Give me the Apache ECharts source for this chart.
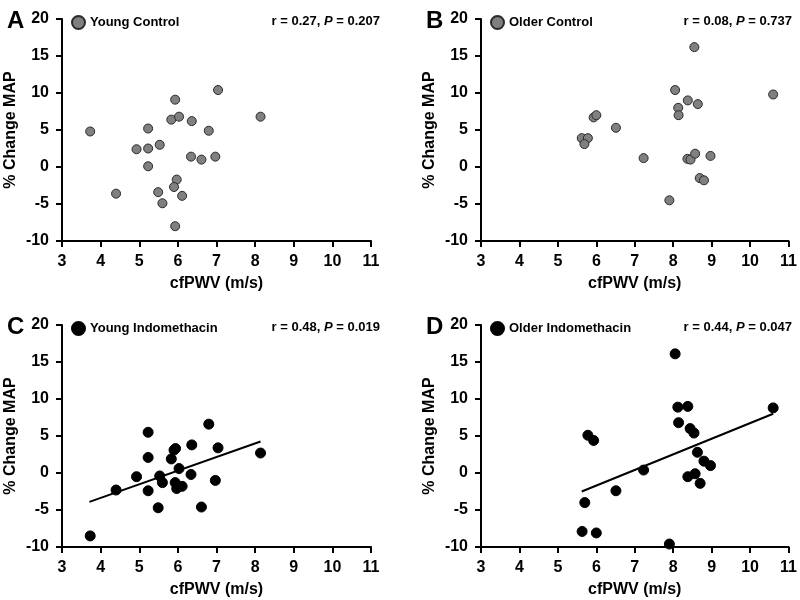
<!DOCTYPE html>
<html>
<head>
<meta charset="utf-8">
<script src="https://cdn.jsdelivr.net/npm/echarts@6/dist/echarts.min.js"></script>
<style>html,body{margin:0;padding:0;background:#fff}#c{width:800px;height:600px}</style>
</head>
<body>
<div id="c"></div>
<script>
// ---- data ----
const xTicks = [3,4,5,6,7,8,9,10,11];
const yTicks = [-10,-5,0,5,10,15,20];
const panelLetters = ['A','B','C','D'];
const seriesNames = ['Young Control','Older Control','Young Indomethacin','Older Indomethacin'];
const rValues = ['0.27','0.08','0.48','0.44'];
const pValues = ['0.207','0.737','0.019','0.047'];

const youngCtrlX = [3.73,4.40,4.93,5.23,5.23,5.23,5.53,5.49,5.60,5.93,5.83,6.03,5.97,5.90,6.11,5.93,6.36,6.34,6.61,6.80,6.97,7.04,8.14];
const youngCtrlY = [4.8,-3.6,2.4,5.2,2.5,0.1,3.0,-3.4,-4.9,9.1,6.4,6.8,-1.7,-2.7,-3.9,-8.0,6.2,1.4,1.0,4.9,1.4,10.4,6.8];

const olderCtrlX = [5.62,5.78,5.69,5.93,6.00,6.51,7.23,7.90,8.05,8.13,8.14,8.38,8.64,8.55,8.37,8.45,8.57,8.97,8.69,8.80,10.60];
const olderCtrlY = [3.9,3.9,3.1,6.7,7.0,5.3,1.2,-4.5,10.4,8.0,7.0,9.0,8.5,16.2,1.1,1.0,1.8,1.5,-1.5,-1.8,9.8];

const youngIndoX = [3.73,4.40,4.93,5.23,5.23,5.23,5.53,5.60,5.49,5.83,5.90,5.94,6.03,5.93,5.97,6.11,6.34,6.36,6.61,6.80,6.97,7.04,8.14];
const youngIndoY = [-8.5,-2.3,-0.5,5.5,2.1,-2.4,-0.4,-1.3,-4.7,1.9,3.1,3.3,0.6,-1.3,-2.1,-1.8,-0.2,3.8,-4.6,6.6,-1.0,3.4,2.7];

const olderIndoX = [5.63,5.70,5.78,5.93,6.00,6.51,7.23,7.90,8.05,8.12,8.14,8.38,8.44,8.54,8.63,8.80,8.97,8.38,8.57,8.70,10.60];
const olderIndoY = [-7.9,-4.0,5.1,4.4,-8.1,-2.4,0.4,-9.6,16.1,8.9,6.8,9.0,6.0,5.4,2.8,1.6,1.0,-0.5,-0.1,-1.4,8.8];

const youngIndoFitX = [3.71, 8.14];
const youngIndoFitY = [-3.9, 4.25];
const olderIndoFitX = [5.62, 10.60];
const olderIndoFitY = [-2.5, 8.0];

// ---- build ----
const FONT = 'Liberation Sans, Arial, sans-serif';
const zip = (xs, ys) => xs.map((x, i) => [x, ys[i]]);
const allX = [youngCtrlX, olderCtrlX, youngIndoX, olderIndoX];
const allY = [youngCtrlY, olderCtrlY, youngIndoY, olderIndoY];
const fits = [null, null, [youngIndoFitX, youngIndoFitY], [olderIndoFitX, olderIndoFitY]];

const gridPos = [
  {left: 62, top: 19, width: 309, height: 222},
  {left: 481, top: 19, width: 310, height: 222},
  {left: 62, top: 325, width: 309, height: 222},
  {left: 481, top: 325, width: 310, height: 222}
];
const fill = ['#808080','#808080','#000000','#000000'];
const sizes = [9,9,10,10];

const grids = [], xAxes = [], yAxes = [], series = [], titles = [], legends = [];
for (let i = 0; i < 4; i++) {
  const g = gridPos[i];
  grids.push(Object.assign({containLabel: false}, g));
  xAxes.push({
    type: 'value', gridIndex: i, min: xTicks[0], max: xTicks[xTicks.length-1], interval: 1,
    name: 'cfPWV (m/s)', nameLocation: 'middle', nameGap: 35,
    nameTextStyle: {fontFamily: FONT, fontWeight: 'bold', fontSize: 16, color: '#000'},
    axisLine: {onZero: false, lineStyle: {color: '#000', width: 2}},
    axisTick: {show: true, length: 6, lineStyle: {color: '#000', width: 2}},
    axisLabel: {fontFamily: FONT, fontWeight: 'bold', fontSize: 16, color: '#000', margin: 13},
    splitLine: {show: false}
  });
  yAxes.push({
    type: 'value', gridIndex: i, min: yTicks[0], max: yTicks[yTicks.length-1], interval: 5,
    name: '% Change MAP', nameLocation: 'middle', nameGap: 43,
    nameTextStyle: {fontFamily: FONT, fontWeight: 'bold', fontSize: 16, color: '#000'},
    axisLine: {onZero: false, lineStyle: {color: '#000', width: 2}},
    axisTick: {show: true, length: 6, lineStyle: {color: '#000', width: 2}},
    axisLabel: {fontFamily: FONT, fontWeight: 'bold', fontSize: 16, color: '#000', margin: 13},
    splitLine: {show: false}
  });
  series.push({
    type: 'scatter', name: seriesNames[i], xAxisIndex: i, yAxisIndex: i,
    data: zip(allX[i], allY[i]), symbol: 'circle', symbolSize: sizes[i],
    itemStyle: {color: fill[i], borderColor: i < 2 ? '#2a2a2a' : '#000', borderWidth: 1, opacity: 1},
    z: 3
  });
  if (fits[i]) {
    series.push({
      type: 'line', xAxisIndex: i, yAxisIndex: i, data: zip(fits[i][0], fits[i][1]),
      symbol: 'none', lineStyle: {color: '#000', width: 2}, z: 2, silent: true
    });
  }
  // panel letter
  titles.push({
    text: panelLetters[i], left: g.left - 60, top: g.top - 15,
    textStyle: {fontFamily: FONT, fontWeight: 'bold', fontSize: 24, color: '#000'}
  });
  // r, P text
  titles.push({
    text: '{a|r = ' + rValues[i] + ', }{i|P}{a| = ' + pValues[i] + '}',
    right: 800 - (g.left + g.width) - (i % 2 === 0 ? 9 : 1), top: g.top - 4,
    padding: 0,
    textStyle: {rich: {
      a: {fontFamily: FONT, fontWeight: 'bold', fontSize: 13, color: '#000'},
      i: {fontFamily: FONT, fontWeight: 'bold', fontStyle: 'italic', fontSize: 13, color: '#000'}
    }}
  });
  legends.push({
    data: [seriesNames[i]], left: g.left + 9, top: g.top - 4, padding: 0,
    icon: 'circle', itemWidth: 13, itemHeight: 13, itemGap: 0,
    textStyle: {fontFamily: FONT, fontWeight: 'bold', fontSize: 13, color: '#000'},
    selectedMode: false
  });
}

const chart = echarts.init(document.getElementById('c'), null, {renderer: 'canvas'});
chart.setOption({
  animation: false,
  backgroundColor: '#fff',
  title: titles,
  legend: legends,
  grid: grids,
  xAxis: xAxes,
  yAxis: yAxes,
  series: series
});
</script>
</body>
</html>
